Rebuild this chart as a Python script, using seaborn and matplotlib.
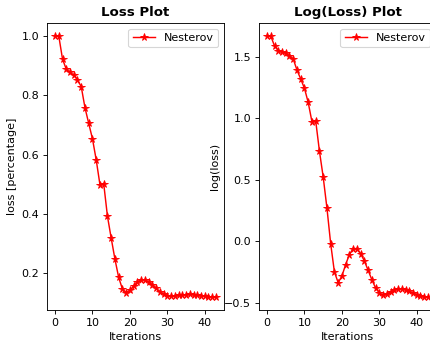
import numpy as np
import pandas as pd
import matplotlib
matplotlib.use("Agg")
import matplotlib.pyplot as plt
import seaborn as sns

# ─── data ───────────────────────────────────────────────────────────────
iterations = list(range(44))

loss_pct = [1.000, 1.000, 0.922, 0.888, 0.878, 0.868, 0.852, 0.829, 0.758, 0.705,
            0.653, 0.582, 0.498, 0.502, 0.392, 0.318, 0.247, 0.185, 0.146, 0.134,
            0.141, 0.156, 0.169, 0.177, 0.177, 0.170, 0.160, 0.149, 0.137, 0.129,
            0.123, 0.121, 0.122, 0.124, 0.126, 0.127, 0.128, 0.127, 0.125, 0.123,
            0.122, 0.120, 0.119, 0.119]

log_loss = [1.671, 1.671, 1.590, 1.552, 1.541, 1.530, 1.511, 1.484, 1.394, 1.321,
            1.245, 1.130, 0.973, 0.981, 0.734, 0.524, 0.272, -0.019, -0.250, -0.337,
            -0.285, -0.190, -0.109, -0.060, -0.060, -0.101, -0.160, -0.236, -0.313, -0.380,
            -0.421, -0.440, -0.432, -0.413, -0.399, -0.389, -0.386, -0.394, -0.408, -0.421,
            -0.435, -0.446, -0.454, -0.454]

df = pd.DataFrame({"iter": iterations, "loss": loss_pct, "log_loss": log_loss})

plt.rcParams["font.family"] = ["DejaVu Sans"]

# 430x347 px at 80 dpi, default 10pt text
DPI = 80
W, H = 430, 347
fig = plt.figure(figsize=(W / DPI, H / DPI), dpi=DPI)
ax1 = fig.add_axes([47 / W, (H - 310) / H, 177 / W, 287 / H])
ax2 = fig.add_axes([259 / W, (H - 310) / H, 177 / W, 287 / H])

style = dict(color="red", marker="*", markersize=7, markeredgewidth=0.8,
             markeredgecolor="red", linewidth=1.3, label="Nesterov")

# ─── left: normalised loss ──────────────────────────────────────────────
sns.lineplot(data=df, x="iter", y="loss", ax=ax1, **style)
ax1.set_title("Loss Plot", fontweight="bold")
ax1.set_xlabel("Iterations")
ax1.set_ylabel("loss [percentage]")
ax1.set_yticks([0.2, 0.4, 0.6, 0.8, 1.0])
ax1.legend(loc="upper right")

# ─── right: log loss ────────────────────────────────────────────────────
sns.lineplot(data=df, x="iter", y="log_loss", ax=ax2, **style)
ax2.set_title("Log(Loss) Plot", fontweight="bold")
ax2.set_xlabel("Iterations")
ax2.set_ylabel("log(loss)")
ax2.set_yticks([-0.5, 0.0, 0.5, 1.0, 1.5])
ax2.legend(loc="upper right")

for ax in (ax1, ax2):
    ax.set_xticks([0, 10, 20, 30, 40])

fig.savefig("out.png", dpi=DPI)
